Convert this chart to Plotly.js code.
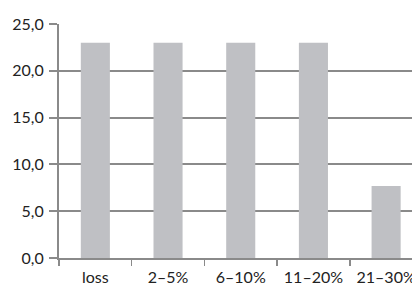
<!DOCTYPE html>
<html><head><meta charset="utf-8">
<script src="https://cdn.plot.ly/plotly-3.0.1.min.js"></script>
<style>html,body{margin:0;padding:0;background:#fff}#c{width:412px;height:285px}</style>
</head><body><div id="c"></div>
<script>
const categories = ["loss", "2–5%", "6–10%", "11–20%", "21–30%"];
const values = [23.0, 23.0, 23.0, 23.0, 7.7];
const yTicks = [0, 5, 10, 15, 20, 25];

const gray = "#8a8a8a";
Plotly.newPlot("c", [{
  type: "bar", x: categories, y: values,
  marker: {color: "#bfc0c4"}, hoverinfo: "none"
}], {
  width: 412, height: 285,
  margin: {l: 59, r: 0, t: 24, b: 27, pad: 0},
  bargap: 0.6,
  separators: ",.",
  paper_bgcolor: "#fff", plot_bgcolor: "#fff",
  font: {family: "Lato, sans-serif", size: 16, color: "#222"},
  showlegend: false,
  xaxis: {
    type: "category", range: [-0.5, 4.356], fixedrange: true,
    showline: true, linecolor: gray, linewidth: 2,
    ticks: "outside", tickson: "boundaries", ticklen: 6, tickcolor: gray, tickwidth: 1.5,
    showgrid: false, tickfont: {size: 16}, ticklabelstandoff: 4
  },
  yaxis: {
    range: [0, 25], tickvals: yTicks, tickformat: ".1f",
    showline: true, linecolor: gray, linewidth: 2,
    ticks: "outside", ticklen: 8, tickcolor: gray, tickwidth: 2,
    showgrid: true, gridcolor: gray, gridwidth: 2,
    zeroline: false, tickfont: {size: 16}, ticklabelstandoff: 2
  }
}, {staticPlot: true});
</script></body></html>
